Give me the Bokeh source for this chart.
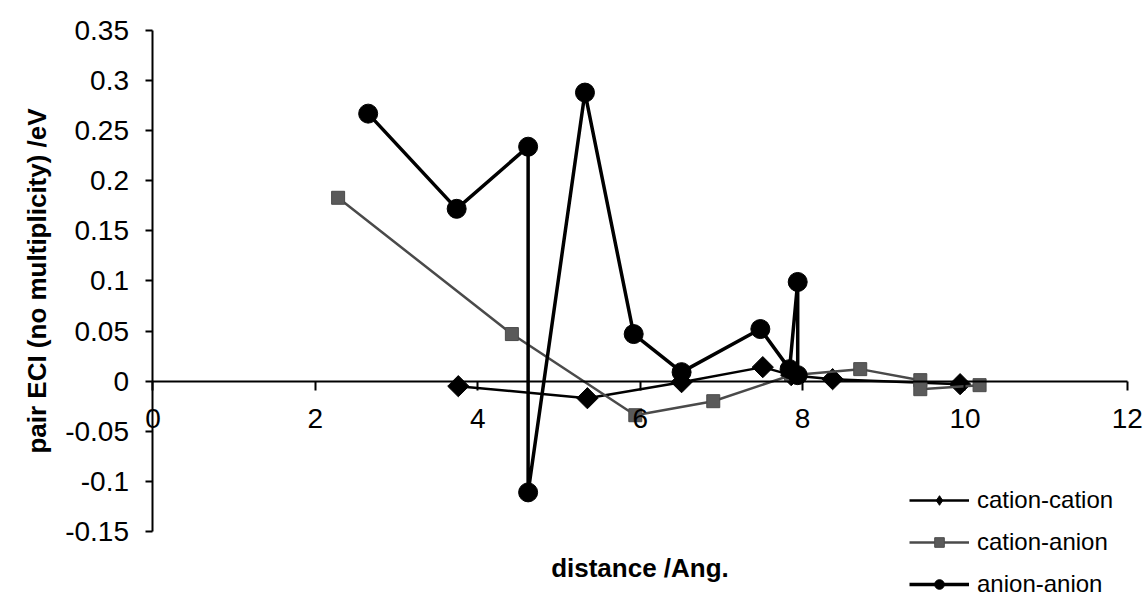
import math
from bokeh.plotting import figure
from bokeh.models import Range1d, FixedTicker, Legend, LegendItem
from bokeh.embed import file_html
from bokeh.resources import INLINE

# ---- data ----
cc_x = [3.76, 5.35, 6.51, 7.51, 7.86, 8.37, 9.94]
cc_y = [-0.005, -0.017, -0.001, 0.014, 0.006, 0.002, -0.003]

ca_x = [2.28, 4.42, 5.94, 6.90, 7.86, 8.71, 9.45, 9.45, 10.18]
ca_y = [0.183, 0.047, -0.034, -0.020, 0.006, 0.012, 0.001, -0.008, -0.004]

aa_x = [2.65, 3.74, 4.62, 4.62, 5.32, 5.92, 6.51, 7.48, 7.84, 7.94, 7.94]
aa_y = [0.267, 0.172, 0.234, -0.111, 0.288, 0.047, 0.009, 0.052, 0.012, 0.099, 0.006]

series_names = ["cation-cation", "cation-anion", "anion-anion"]

x_ticks = [0, 2, 4, 6, 8, 10, 12]
x_tick_labels = ["0", "2", "4", "6", "8", "10", "12"]
y_ticks = [-0.15, -0.1, -0.05, 0, 0.05, 0.1, 0.15, 0.2, 0.25, 0.3, 0.35]
y_tick_labels = ["-0.15", "-0.1", "-0.05", "0", "0.05", "0.1", "0.15", "0.2", "0.25", "0.3", "0.35"]

x_label = "distance /Ang."
y_label = "pair ECI (no multiplicity) /eV"

FONT = "Liberation Sans"

# the frame spans the whole canvas; axes are drawn at fixed locations inside it
p = figure(width=1147, height=599, output_backend="svg", toolbar_location=None,
           x_range=Range1d(-1.878, 12.248), y_range=Range1d(-0.2179, 0.3799),
           min_border_left=0, min_border_right=0, min_border_top=0,
           min_border_bottom=0)
p.outline_line_color = None
p.grid.visible = False
p.background_fill_color = "white"
p.border_fill_color = "white"

# x axis crossing at y = 0
xa = p.xaxis[0]
xa.fixed_location = 0
xa.bounds = (x_ticks[0], x_ticks[-1])
xa.ticker = FixedTicker(ticks=x_ticks)
xa.major_label_overrides = dict(zip(x_ticks, x_tick_labels))
xa.axis_line_width = 2
xa.axis_line_color = "black"
xa.major_tick_in = 0
xa.major_tick_out = 9
xa.major_tick_line_width = 2
xa.minor_tick_line_color = None
xa.major_label_text_font = FONT
xa.major_label_text_font_size = "28px"
xa.major_label_text_color = "black"
xa.major_label_standoff = 19
xa.axis_label = x_label
xa.axis_label_text_font = FONT
xa.axis_label_text_font_size = "26px"
xa.axis_label_text_font_style = "bold"
xa.axis_label_text_color = "black"
xa.axis_label_standoff = 121

# y axis at x = 0
ya = p.yaxis[0]
ya.fixed_location = 0
ya.bounds = (y_ticks[0], y_ticks[-1])
ya.ticker = FixedTicker(ticks=y_ticks)
ya.major_label_overrides = dict(zip(y_ticks, y_tick_labels))
ya.axis_line_width = 2
ya.axis_line_color = "black"
ya.major_tick_in = 0
ya.major_tick_out = 7
ya.major_tick_line_width = 2
ya.minor_tick_line_color = None
ya.major_label_text_font = FONT
ya.major_label_text_font_size = "28px"
ya.major_label_text_color = "black"
ya.major_label_standoff = 17
ya.axis_label = y_label
ya.axis_label_text_font = FONT
ya.axis_label_text_font_size = "26px"
ya.axis_label_text_font_style = "bold"
ya.axis_label_text_color = "black"
ya.axis_label_standoff = 10

# series
cc_line = p.line(cc_x, cc_y, line_color="black", line_width=2.5)
cc_pts = p.scatter(cc_x, cc_y, marker="square", angle=math.pi / 4, size=15,
                   fill_color="black", line_color="black")
# legend-only key marker (a single missing value, so nothing is plotted)
cc_key = p.scatter([math.nan], [math.nan], marker="diamond", size=16,
                   fill_color="black", line_color="black")

ca_line = p.line(ca_x, ca_y, line_color="#4a4a4a", line_width=2.5)
ca_pts = p.scatter(ca_x, ca_y, marker="square", size=13,
                   fill_color="#5a5a5a", line_color="#4a4a4a")

aa_line = p.line(aa_x, aa_y, line_color="black", line_width=3.5)
aa_pts = p.scatter(aa_x, aa_y, marker="circle", size=19,
                   fill_color="black", line_color="black")

items = [
    LegendItem(label=series_names[0], renderers=[cc_line, cc_key]),
    LegendItem(label=series_names[1], renderers=[ca_line, ca_pts]),
    LegendItem(label=series_names[2], renderers=[aa_line, aa_pts]),
]
legend = Legend(items=items, location=(909, 1), orientation="vertical",
                border_line_color=None, background_fill_alpha=0,
                padding=0, margin=0, spacing=14,
                glyph_width=60, glyph_height=24, label_height=24,
                label_standoff=8, label_text_font=FONT,
                label_text_font_size="24px", label_text_color="black")
p.add_layout(legend)

open("out.html", "w").write(file_html(p, INLINE))
